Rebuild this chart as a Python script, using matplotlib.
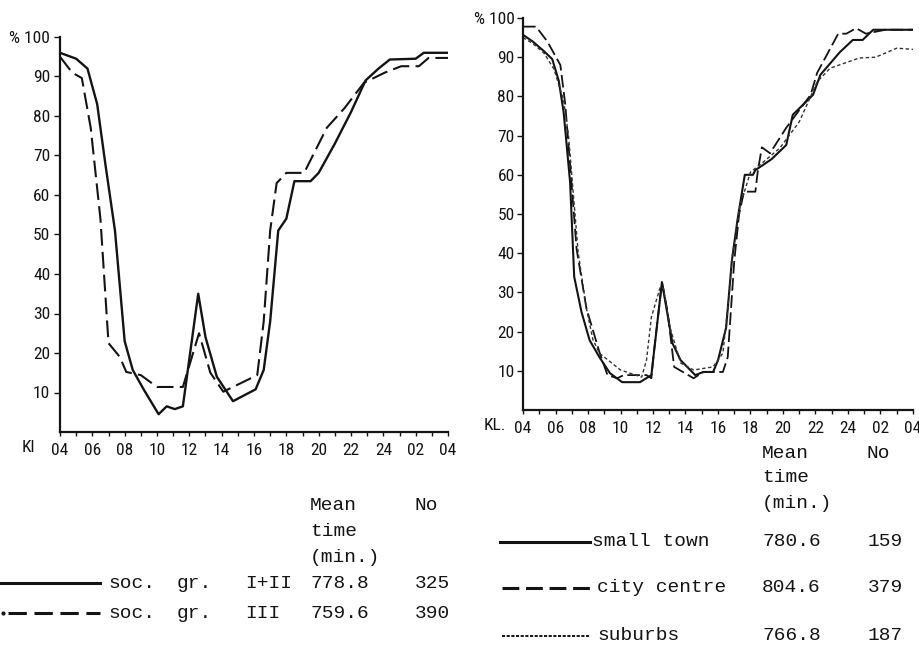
import numpy as np
import matplotlib
matplotlib.use('Agg')
import matplotlib.pyplot as plt
from matplotlib.lines import Line2D
from matplotlib import font_manager


# hours on a continuous scale: 04 .. 28 (= 04 next morning)
hour_ticks = [4, 6, 8, 10, 12, 14, 16, 18, 20, 22, 24, 26, 28]
hour_labels = ['04', '06', '08', '10', '12', '14', '16', '18', '20', '22', '24', '02', '04']
pct_ticks = [10, 20, 30, 40, 50, 60, 70, 80, 90, 100]
pct_labels = ['10', '20', '30', '40', '50', '60', '70', '80', '90', '% 100']

# left panel: social groups
soc12_h = [4.0, 5.0, 5.7, 6.3, 6.8, 7.4, 8.0, 8.5, 9.2, 10.1, 10.6, 11.1, 11.6, 12.55,
           13.0, 13.7, 14.7, 16.1, 16.6, 17.0, 17.5, 18.0, 18.5, 19.5, 20.0, 21.0, 22.0,
           22.9, 23.7, 24.4, 26.0, 26.5, 28.0]
soc12_v = [96, 94.5, 92, 83, 68, 51, 23, 15.7, 10.6, 4.5, 6.5, 5.8, 6.5, 35,
           24, 14, 7.8, 10.8, 15.7, 28, 51, 54, 63.5, 63.5, 65.6, 73, 81,
           89, 92, 94.3, 94.5, 96, 96]

soc3_h = [4.0, 4.75, 5.35, 5.9, 6.5, 7.0, 7.7, 8.1, 9.0, 10.0, 11.6, 12.6, 13.3, 14.1,
          16.2, 16.6, 17.0, 17.4, 18.0, 19.1, 20.5, 21.6, 22.8, 24.1, 25.1, 26.2, 26.8, 28.0]
soc3_v = [95, 91, 89.6, 77, 54, 22.5, 19, 15.2, 14.4, 11.4, 11.4, 25, 15, 10.2,
          14.4, 28, 51, 63, 65.6, 65.6, 77, 82, 88.4, 91, 92.6, 92.6, 94.7, 94.7]

# right panel: residential area
town_h = [4.0, 4.6, 5.3, 5.8, 6.2, 6.5, 6.9, 7.15, 7.6, 8.1, 8.7, 9.35, 10.1, 11.2, 11.9,
          12.55, 13.2, 13.7, 14.6, 15.1, 15.7, 16.0, 16.5, 16.85, 17.2, 17.65, 18.15, 18.3,
          19.3, 20.2, 20.6, 21.85, 22.3, 23.5, 24.3, 24.9, 25.55, 28.0]
town_v = [95.7, 94, 91.5, 89.5, 84, 76, 58, 34, 25, 17.8, 13.5, 9.4, 7.1, 7.1, 8.9,
          32.6, 17, 12.7, 8.9, 9.7, 9.7, 12.7, 21, 38, 48.5, 60, 60, 61.2,
          64, 67.6, 75.3, 80.4, 85.5, 91.3, 94.4, 94.4, 97, 97]

city_h = [4.0, 4.8, 5.5, 6.3, 6.6, 6.9, 7.3, 7.9, 8.7, 9.2, 9.8, 10.2, 11.6, 11.9, 12.0,
          12.55, 12.9, 13.3, 14.5, 15.1, 16.3, 16.6, 17.0, 17.3, 17.6, 18.3, 18.45, 18.7,
          19.2, 20.2, 21.7, 22.1, 23.4, 23.9, 24.5, 25.1, 25.7, 26.3, 28.0]
city_v = [97.8, 97.8, 94, 88, 78, 62.5, 41, 26, 14.8, 8.9, 8.1, 8.9, 8.9, 8.1, 12.7,
          32.6, 25, 11, 8.1, 9.7, 9.7, 13.5, 38, 50, 55.7, 55.7, 61, 67,
          65.5, 72, 80.4, 86, 96, 96, 97.4, 96, 96.5, 97, 97]

sub_h = [4.0, 4.6, 5.3, 5.9, 6.5, 6.8, 7.1, 7.4, 7.9, 8.3, 8.7, 10.0, 11.3, 11.6, 11.9,
         12.45, 12.65, 13.05, 13.7, 14.5, 15.7, 16.3, 16.7, 16.9, 17.35, 18.0, 18.8, 19.8,
         21.0, 22.1, 22.9, 24.7, 25.7, 27.0, 28.0]
sub_v = [95, 93.5, 91, 87, 79, 70, 55, 40, 26, 18, 14.5, 10.2, 8.4, 12.7, 23.7,
         31.4, 31, 21, 12, 10.2, 11, 14.5, 30, 40, 52, 60.7, 63.3, 66.8,
         73.5, 83.7, 87.2, 89.8, 90, 92.3, 92]

left_rows = [('soc.', 'gr.', 'I+II', '778.8', '325'),
             ('soc.', 'gr.', 'III', '759.6', '390')]
right_rows = [('small town', '780.6', '159'),
              ('city centre', '804.6', '379'),
              ('suburbs', '766.8', '187')]

W, H = 919, 652
INK = '#141414'
mono = 'Liberation Mono'

# condensed sans for the axis numbers, if there is one
names = set(f.name for f in font_manager.fontManager.ttflist)
tick_kw = dict(family='DejaVu Sans', fontsize=11.5, stretch='condensed')
for cand in ['Liberation Sans Narrow', 'DejaVu Sans Condensed', 'Roboto Condensed']:
    if cand in names:
        tick_kw = dict(family=cand, fontsize=12.5)
        break

fig = plt.figure(figsize=(W / 100, H / 100), dpi=100)


def px_axes(x0, y0, x1, y1):
    return fig.add_axes([x0 / W, 1 - y1 / H, (x1 - x0) / W, (y1 - y0) / H])


def style_axes(ax, pad_y):
    ax.set_xlim(4, 28)
    ax.set_ylim(0, 100)
    for s in ('top', 'right'):
        ax.spines[s].set_visible(False)
    for s in ('left', 'bottom'):
        ax.spines[s].set_linewidth(1.6)
        ax.spines[s].set_color(INK)
    ax.set_xticks(hour_ticks)
    ax.set_xticklabels(hour_labels, color=INK, **tick_kw)
    ax.set_xticks(np.arange(4, 29, 1), minor=True)
    ax.set_yticks(pct_ticks)
    ax.set_yticklabels(pct_labels, color=INK, **tick_kw)
    ax.tick_params(axis='x', which='both', direction='out', length=3, width=1, color=INK, pad=5)
    ax.tick_params(axis='y', direction='out', length=4, width=1, color=INK, pad=pad_y)
    ax.patch.set_alpha(0)


# left panel
ax1 = px_axes(60, 37, 448, 432)
style_axes(ax1, 3)
ax1.plot(soc12_h, soc12_v, color=INK, lw=1.7)
ax1.plot(soc3_h, soc3_v, color=INK, lw=1.5, dashes=(8, 3))
fig.text(22 / W, 1 - 448 / H, 'Kl', color=INK, va='center', **tick_kw)

# right panel
ax2 = px_axes(523, 18, 913, 410)
style_axes(ax2, 2)
ax2.plot(town_h, town_v, color=INK, lw=1.5)
ax2.plot(city_h, city_v, color=INK, lw=1.3, dashes=(7, 2.5))
ax2.plot(sub_h, sub_v, color='#333333', lw=1.0, dashes=(2.5, 1.8))
fig.text(484 / W, 1 - 426 / H, 'KL.', color=INK, va='center', **tick_kw)


def ftext(x, y, s, **kw):
    fig.text(x / W, 1 - y / H, s, family=mono, fontsize=14, color=INK,
             va='center', ha='left', **kw)


def fline(x0, x1, y, **kw):
    fig.add_artist(Line2D([x0 / W, x1 / W], [1 - y / H, 1 - y / H],
                          transform=fig.transFigure, color=INK, **kw))


# left legend table
ftext(310, 505, 'Mean')
ftext(310, 531, 'time')
ftext(310, 557, '(min.)')
ftext(415, 505, 'No')
row_y = [583, 613]
fline(0, 100, row_y[0], lw=2.2)
fline(8, 100, row_y[1], lw=2.2, dashes=(6, 2.5))
fig.add_artist(Line2D([3 / W], [1 - row_y[1] / H], transform=fig.transFigure,
                      marker='o', ms=2, color=INK, lw=0))
for y, (a, b, c, d, e) in zip(row_y, left_rows):
    ftext(108, y, a)
    ftext(177, y, b)
    ftext(245, y, c)
    ftext(310, y, d)
    ftext(415, y, e)

# right legend table
ftext(762, 453, 'Mean')
ftext(762, 478, 'time')
ftext(762, 503, '(min.)')
ftext(867, 453, 'No')
rrow_y = [542, 588, 636]
fline(500, 590, rrow_y[0], lw=2.2)
fline(502, 590, rrow_y[1], lw=2.2, dashes=(5.5, 2.2))
fline(502, 590, rrow_y[2], lw=1.4, dashes=(1.6, 0.8))
for y, (a, b, c), x in zip(rrow_y, right_rows, [592, 597, 597]):
    ftext(x, y, a)
    ftext(762, y, b)
    ftext(868, y, c)

fig.savefig('out.png', dpi=100, facecolor='white')
